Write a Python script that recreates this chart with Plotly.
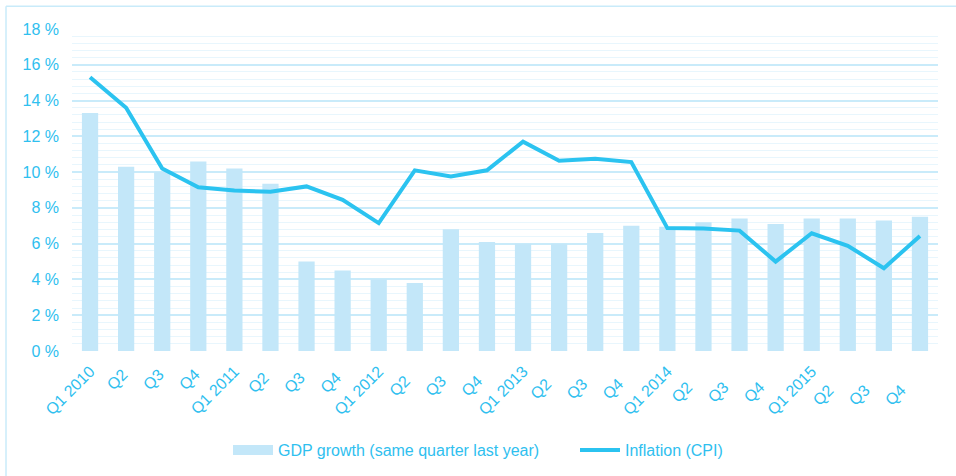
import plotly.graph_objects as go

categories = ["Q1 2010", "Q2 ", "Q3 ", "Q4 ",
              "Q1 2011", "Q2  ", "Q3  ", "Q4  ",
              "Q1 2012", "Q2   ", "Q3   ", "Q4   ",
              "Q1 2013", "Q2    ", "Q3    ", "Q4    ",
              "Q1 2014", "Q2     ", "Q3     ", "Q4     ",
              "Q1 2015", "Q2      ", "Q3      ", "Q4      "]

gdp_growth = [13.3, 10.3, 10.0, 10.6,
              10.2, 9.35, 5.0, 4.5,
              4.0, 3.8, 6.8, 6.1,
              6.0, 6.0, 6.6, 7.0,
              6.95, 7.2, 7.4, 7.1,
              7.4, 7.4, 7.3, 7.5]

inflation = [15.3, 13.6, 10.2, 9.15,
             8.97, 8.9, 9.2, 8.45,
             7.15, 10.1, 9.75, 10.1,
             11.7, 10.63, 10.74, 10.56,
             6.87, 6.85, 6.73, 5.0,
             6.58, 5.88, 4.63, 6.43]

y_ticks = [0, 2, 4, 6, 8, 10, 12, 14, 16, 18]
y_tick_labels = ["0 %", "2 %", "4 %", "6 %", "8 %", "10 %", "12 %", "14 %", "16 %", "18 %"]

TEXT = "#2FC0EF"
LINE = "#2BC3F0"
BAR = "#C3E7F9"

fig = go.Figure()
fig.add_trace(go.Bar(x=categories, y=gdp_growth, name="GDP growth (same quarter last year)",
                     marker=dict(color=BAR, line=dict(width=0)), showlegend=False))
# legend-only entry so the GDP key is drawn as a wide band like the original
fig.add_trace(go.Scatter(x=[None], y=[None], name="GDP growth (same quarter last year)",
                         mode="lines", line=dict(color=BAR, width=10)))
fig.add_trace(go.Scatter(x=categories, y=inflation, name="Inflation (CPI)", mode="lines",
                         line=dict(color=LINE, width=4)))

fig.update_layout(
    width=956, height=476,
    margin=dict(l=72, r=18, t=29, b=125),
    paper_bgcolor="white", plot_bgcolor="white",
    bargap=0.55,
    font=dict(family="Liberation Sans, Arial, sans-serif", color=TEXT, size=14),
    showlegend=True,
    legend=dict(orientation="h", xref="container", yref="container",
                x=0.2385, xanchor="left", y=0.0546, yanchor="middle",
                font=dict(size=16, color=TEXT), itemwidth=40, tracegroupgap=0,
                entrywidth=292, entrywidthmode="pixels"),
    xaxis=dict(type="category", tickangle=-45, tickfont=dict(size=16, color=TEXT),
               showgrid=False, zeroline=False, showline=False, ticks="", automargin=False,
               ticklabelstandoff=7),
    yaxis=dict(range=[0, 18], tickmode="array", tickvals=y_ticks, ticktext=y_tick_labels,
               tickfont=dict(size=16, color=TEXT), automargin=False, ticklabelstandoff=12,
               showgrid=True, gridcolor="#C9EBFA", gridwidth=1.5,
               zeroline=False, ticks="",
               minor=dict(dtick=0.4, showgrid=True, gridcolor="#E8F6FD", gridwidth=1)),
    shapes=[
        dict(type="line", xref="paper", yref="paper", x0=-0.0762, x1=1.03, y0=1.071, y1=1.071,
             line=dict(color="#C9EBFA", width=1.5)),
        dict(type="line", xref="paper", yref="paper", x0=-0.0762, x1=-0.0762, y0=1.071, y1=-0.5,
             line=dict(color="#C9EBFA", width=1.5)),
    ],
)

fig.write_html("out.html", config={"displayModeBar": False},
               post_script="document.body.style.margin='0';")
